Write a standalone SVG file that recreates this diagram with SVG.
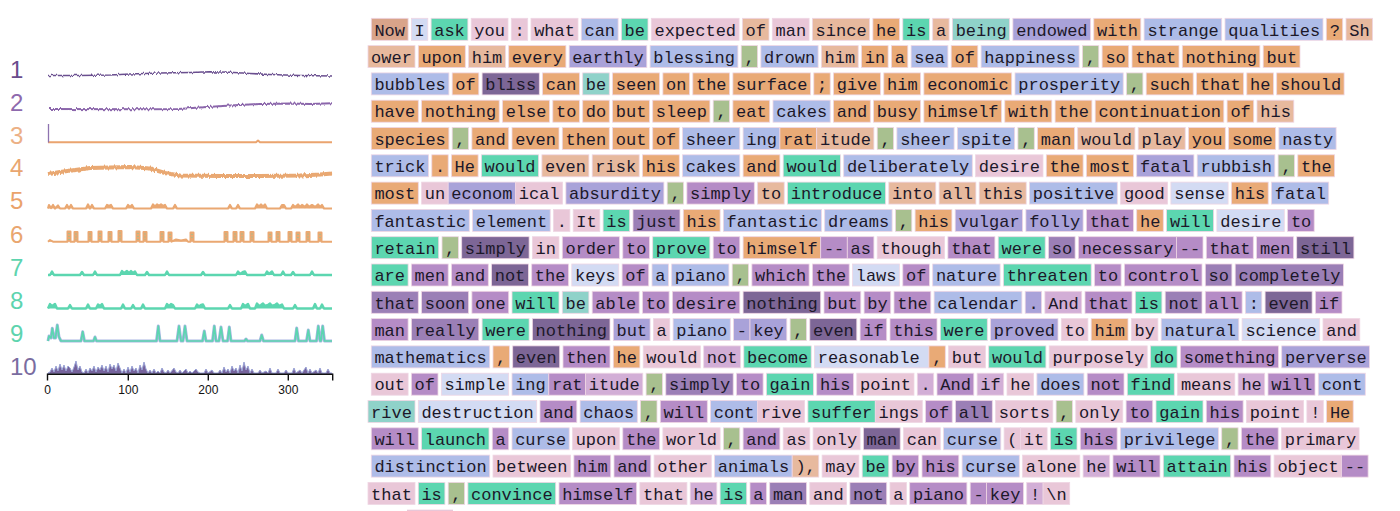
<svg xmlns="http://www.w3.org/2000/svg" width="1400" height="511" viewBox="0 0 1400 511">
<style>
.ln rect{stroke:#efd6e4;stroke-width:0.8}
.o{fill:#e9aa76}.op{fill:#e7b99e}.on{fill:#d9a48a}.g{fill:#5cd6b0}.gb{fill:#8fd2c9}.go{fill:#a8c08f}
.b{fill:#aebce8}.lb{fill:#d3dbf3}.bu{fill:#a9a2d9}.p{fill:#e9c7d8}.pu{fill:#d2aed6}.u{fill:#b58cc6}.m{fill:#9b7fb6}.d{fill:#7d6696}
.t{font-family:"Liberation Mono","DejaVu Sans Mono",monospace;font-size:17px;fill:#1c1829}
.lab{font-family:"Liberation Sans",Arial,sans-serif;font-size:24px}
.tick{font-family:"Liberation Sans",Arial,sans-serif;font-size:12px;fill:#111;text-anchor:middle}
</style>
<defs>
<filter id="jit" x="40" y="40" width="300" height="160" filterUnits="userSpaceOnUse">
<feTurbulence type="fractalNoise" baseFrequency="0.5 0.03" numOctaves="2" seed="4" result="n"/>
<feDisplacementMap in="SourceGraphic" in2="n" scale="4" xChannelSelector="R" yChannelSelector="G"/>
</filter>
</defs>
<rect width="1400" height="511" fill="#ffffff"/>

<g id="charts">
<g id="labels" class="lab">
<text x="10" y="78" fill="#6a4c8c">1</text>
<text x="10" y="111" fill="#8e69ad">2</text>
<text x="10" y="143.5" fill="#ecb085">3</text>
<text x="10" y="176" fill="#e9a670">4</text>
<text x="10" y="209" fill="#eaa36c">5</text>
<text x="10" y="242.5" fill="#e9a66f">6</text>
<text x="10" y="276" fill="#5dd4ae">7</text>
<text x="10" y="309" fill="#5dd4ae">8</text>
<text x="10" y="342" fill="#5dd4ae">9</text>
<text x="10" y="375" fill="#7a6ca0">10</text>
</g>
<g id="series" fill="none" stroke-linejoin="round">
<path id="s1" filter="url(#jit)" stroke="#6a4f8f" stroke-width="1.6" d="M48,75.5 L80,75.5 L110,75 L130,74 L160,73 L190,72.5 L210,71.8 L230,72.2 L250,73.5 L270,74.5 L300,75.5 L332,76"/>
<path id="s2" filter="url(#jit)" stroke="#8b66ab" stroke-width="2" d="M48,109 L150,109.2 L178,109 L200,107.5 L230,105.5 L260,104 L290,103.5 L310,104 L332,103.2"/>
<path id="s3" stroke="#eaa46f" stroke-width="2" d="M48,142.3 H256 L258,140.5 L260,142.3 H332"/>
<path stroke="#8e73b0" stroke-width="1.3" d="M48.5,142.5 V124"/>
<path id="s4" filter="url(#jit)" stroke="#e9a872" stroke-width="4" d="M48,174 L60,172 L75,170 L90,168 L110,167.5 L130,167 L150,168.5 L165,173 L180,175.5 L220,176 L260,176 L300,175.5 L320,174.5 L332,173.5"/>
<path id="s5" fill="#eaa872" stroke="#eaa872" stroke-width="2.2" d="M48,208.5 L49,205 L51,208 L53,205 L55,208.5 L58,205.5 L60,208.5 H65 L67,205 L69,208.5 L71,205 L73,208.5 H86 L88,204.5 L90,208.5 L92,205 L94,208.5 H105 L107,205 L109,206 L111,205 L113,208.5 H126 L128,205 L130,207 L132,205 L134,208.5 H151 L153,204.5 L155,206.5 L157,204.5 L159,206 L161,204.5 L163,206 L165,205 L167,208.5 H173 L175,205 L177,208.5 H228 L230,205 L232,208.5 H236 L238,205 L240,208.5 H255 L257,204.5 L259,206.5 L261,204.5 L263,206.5 L265,204.5 L267,208.5 H280 L282,205 L284,205 L286,208.5 H291 L293,205 L295,207 L298,204.5 L300,207 L302,205 L305,207 L307,204.5 L309,207 L312,205 L315,207 L318,204.5 L320,207 L322,205 L324,208.5 H332"/>
<path id="s6" fill="#eaa872" stroke="#eaa872" stroke-width="2" d="M48,241.7 L50,240 L53,241.7 H67.5 V231.5 H70.5 V241.7 H74.5 V232 H77.5 V241.7 H88.5 V232 H91.5 V241.7 H98.5 V231.5 H101.5 V241.7 H108.5 V232 H111.5 V241.7 H118.5 V231 H121.5 V241.7 H136.5 V231.5 H139.5 V241.7 H143.5 V232 H146.5 V241.7 H160.5 V232 H163.5 V241.7 H168.5 V232.5 H171.5 V241.7 L176,239.5 L181,240.5 L186,239.5 L188,241.7 H190.5 V232.5 H193.5 V241.7 H224.5 V232 H227.5 V241.7 H233.5 V232 H236.5 V241.7 H240.5 V232 H243.5 V241.7 H250.5 V232 H253.5 V241.7 H268.5 V232.5 H271.5 V241.7 H276.5 V232 H279.5 V241.7 H288.5 V232 H291.5 V241.7 H296.5 V232.5 H299.5 V241.7 H306.5 V232 H309.5 V241.7 H318.5 V232.5 H321.5 V241.7 H332"/>
<path stroke="#5cd6b0" stroke-width="1" stroke-dasharray="1 2" opacity="0.8" d="M69,233 V240 M76,233.5 V240 M90,233.5 V240 M100,233 V240 M110,233.5 V240 M120,232.5 V240 M138,233 V240 M145,233.5 V240 M162,233.5 V240 M170,234 V240 M192,234 V240 M226,233.5 V240 M235,233.5 V240 M242,233.5 V240 M252,233.5 V240 M270,234 V240 M278,233.5 V240 M290,233.5 V240 M298,234 V240 M308,233.5 V240 M320,234 V240"/>
<path id="s7" fill="#5cd6b0" stroke="#5cd6b0" stroke-width="2.4" d="M48,275 H50 L52,271.5 L54,275 H80 L82,272 L84,275 H93 L95,271.5 L97,275 H120 L122,271 L124,273 L127,271 L129,273 L131,271 L133,273 L135,271.5 L137,275 H145 L147,272 L149,275 H165 L167,271.5 L169,275 H201 L203,272 L205,275 H236 L238,271.5 L240,274 L243,272 L245,271.5 L247,275 H265 L267,271.5 L269,274 L272,271.5 L274,275 H281 L283,271.5 L285,275 H291 L293,272 L295,275 H310 L312,271.5 L314,275 H332"/>
<path id="s8" fill="#5cd6b0" stroke="#5cd6b0" stroke-width="2.4" d="M48,308.5 L50,304 L52,306 L55,304 L57,308.5 H68 L70,305 L72,308.5 H86 L88,304.5 L90,308.5 H96 L98,304.5 L100,306 L102,304 L104,308.5 H121 L123,304.5 L125,308.5 H131 L133,305 L135,308.5 H141 L143,304.5 L145,308.5 H165 L167,304 L169,306 L171,304 L173,305 L175,308.5 H195 L197,304.5 L199,306.5 L201,305 L203,304.5 L205,308.5 H228 L230,305 L232,308.5 H241 L243,304 L245,306 L248,304 L250,308.5 H255 L257,303.5 L259,306 L261,305 L263,303.5 L265,306 L268,305 L270,303.5 L272,306 L275,305 L277,303.5 L279,306 L282,304.5 L284,308.5 H293 L295,305 L297,308.5 H313 L315,304 L317,308.5 H320 L322,304.5 L324,308.5 H332"/>
<path id="s9b" stroke="#a9b6e2" stroke-width="3" d="M48,341 L49,336 L51,338 L52.3,328.3 L54,338 L55.5,338 L57.3,325 L59,337 L61,341 H81 L82.7,331.7 L84.5,341 H93.5 L95,337 L96.5,341 H156.5 L158.3,326 L160,341 H177 L179,326 L181,341 H183 L185,326 L187,341 H202.5 L204.3,331 L206,341 H212.5 L214.3,326 L216,341 H219 L221,327 L223,341 H227.5 L229.3,327 L231,341 H244.5 L246,339 L247.5,341 H260 L261.7,335 L263.5,341 H295 L296.7,328 L298.5,341 H306.5 L308.3,330 L310,341 H316.5 L318.3,326 L320,341 H321 L322.7,326 L324.5,341 H332"/>
<path id="s9" stroke="#5cd6b0" stroke-width="1.7" d="M48,341 L49,336 L51,338 L52.3,328.3 L54,338 L55.5,338 L57.3,325 L59,337 L61,341 H81 L82.7,331.7 L84.5,341 H93.5 L95,337 L96.5,341 H156.5 L158.3,326 L160,341 H177 L179,326 L181,341 H183 L185,326 L187,341 H202.5 L204.3,331 L206,341 H212.5 L214.3,326 L216,341 H219 L221,327 L223,341 H227.5 L229.3,327 L231,341 H244.5 L246,339 L247.5,341 H260 L261.7,335 L263.5,341 H295 L296.7,328 L298.5,341 H306.5 L308.3,330 L310,341 H316.5 L318.3,326 L320,341 H321 L322.7,326 L324.5,341 H332"/>
<path id="s10" fill="#76639c" stroke="#9aa3d6" stroke-width="1" d="M48,373 L50,372 L52,368 L54,372 L56,366 L58,371 L60,364 L62,370 L64,365 L66,371 L68,366 L70,368 L72,372 L74,367 L76,361 L78,370 L80,366 L82,372 L84,373 L86,369 L88,373 L90,368 L92,371 L94,366 L96,372 L98,367 L100,370 L102,365 L104,371 L106,366 L108,372 L110,364 L112,369 L114,365 L116,371 L118,363 L120,368 L122,373 L124,369 L126,373 L128,367 L130,372 L132,366 L134,371 L136,368 L138,373 L140,365 L142,370 L144,362 L146,369 L148,373 L150,370 L152,373 L154,369 L156,373 L158,371 L160,373 L162,368 L164,372 L166,373 L168,370 L170,373 L174,368 L176,372 L178,373 L180,370 L182,373 L186,369 L188,373 L190,371 L192,373 L196,369 L198,372 L200,373 L204,373 L206,369 L208,373 L212,370 L214,373 L218,373 L220,370 L222,373 L224,367 L226,372 L228,369 L230,373 L232,366 L234,371 L236,368 L238,373 L240,365 L242,371 L244,362 L246,370 L248,366 L250,373 L252,369 L254,373 L258,373 L260,370 L262,373 L266,371 L268,373 L270,368 L272,373 L276,373 L278,369 L280,373 L284,373 L286,370 L288,373 L292,373 L294,368 L296,373 L300,370 L302,373 L306,367 L308,373 L310,369 L312,373 L316,370 L318,373 L320,368 L322,373 L326,373 L328,369 L330,373 L332,373 L332,374 L48,374 Z"/>
</g>
<g id="axis">
<path fill="none" stroke="#111" stroke-width="1.4" d="M47.5,380.5 V374.2 H332.7 V380.5 M128.3,374.2 V380.5 M208.3,374.2 V380.5 M288.3,374.2 V380.5"/>
<text class="tick" x="47.5" y="394">0</text>
<text class="tick" x="128.3" y="394">100</text>
<text class="tick" x="208.3" y="394">200</text>
<text class="tick" x="288.3" y="394">300</text>
</g>
</g>

<g id="tokens">
<g class="ln" transform="translate(0,18.3)">
<rect class="on" x="371.3" width="36.8" height="22"/><rect class="lb" x="411.4" width="16.4" height="22"/><rect class="g" x="431.1" width="36.8" height="22"/><rect class="p" x="471.2" width="36.8" height="22"/><rect class="p" x="511.3" width="16.4" height="22"/><rect class="p" x="531" width="47" height="22"/><rect class="b" x="581.3" width="36.8" height="22"/><rect class="g" x="621.4" width="26.6" height="22"/><rect class="p" x="651.3" width="87.8" height="22"/><rect class="op" x="742.4" width="26.6" height="22"/><rect class="p" x="772.3" width="36.8" height="22"/><rect class="op" x="812.4" width="57.2" height="22"/><rect class="o" x="872.9" width="26.6" height="22"/><rect class="g" x="902.8" width="26.6" height="22"/><rect class="op" x="932.7" width="16.4" height="22"/><rect class="gb" x="952.4" width="57.2" height="22"/><rect class="bu" x="1012.9" width="77.6" height="22"/><rect class="o" x="1093.8" width="47" height="22"/><rect class="b" x="1144.1" width="77.6" height="22"/><rect class="b" x="1225" width="98" height="22"/><rect class="o" x="1326.3" width="16.4" height="22"/><rect class="op" x="1346" width="26.6" height="22"/>
<text class="t" x="374.4" y="17.3">Now<tspan dx="9.5">I</tspan><tspan dx="9.5">ask</tspan><tspan dx="9.5">you</tspan><tspan dx="9.5">:</tspan><tspan dx="9.5">what</tspan><tspan dx="9.5">can</tspan><tspan dx="9.5">be</tspan><tspan dx="9.5">expected</tspan><tspan dx="9.5">of</tspan><tspan dx="9.5">man</tspan><tspan dx="9.5">since</tspan><tspan dx="9.5">he</tspan><tspan dx="9.5">is</tspan><tspan dx="9.5">a</tspan><tspan dx="9.5">being</tspan><tspan dx="9.5">endowed</tspan><tspan dx="9.5">with</tspan><tspan dx="9.5">strange</tspan><tspan dx="9.5">qualities</tspan><tspan dx="9.5">?</tspan><tspan dx="9.5">Sh</tspan></text>
</g>
<g class="ln" transform="translate(0,45.6)">
<rect class="op" x="368" width="47" height="22"/><rect class="o" x="418.3" width="47" height="22"/><rect class="op" x="468.6" width="36.8" height="22"/><rect class="o" x="508.7" width="57.2" height="22"/><rect class="bu" x="569.2" width="77.6" height="22"/><rect class="b" x="650.1" width="87.8" height="22"/><rect class="go" x="741.2" width="16.4" height="22"/><rect class="b" x="760.9" width="57.2" height="22"/><rect class="op" x="821.4" width="36.8" height="22"/><rect class="o" x="861.5" width="26.6" height="22"/><rect class="o" x="891.4" width="16.4" height="22"/><rect class="b" x="911.1" width="36.8" height="22"/><rect class="o" x="951.2" width="26.6" height="22"/><rect class="b" x="981.1" width="98" height="22"/><rect class="go" x="1082.4" width="16.4" height="22"/><rect class="o" x="1102.1" width="26.6" height="22"/><rect class="o" x="1132" width="47" height="22"/><rect class="o" x="1182.3" width="77.6" height="22"/><rect class="o" x="1263.2" width="36.8" height="22"/>
<text class="t" x="371.1" y="17.3">ower<tspan dx="9.5">upon</tspan><tspan dx="9.5">him</tspan><tspan dx="9.5">every</tspan><tspan dx="9.5">earthly</tspan><tspan dx="9.5">blessing</tspan><tspan dx="9.5">,</tspan><tspan dx="9.5">drown</tspan><tspan dx="9.5">him</tspan><tspan dx="9.5">in</tspan><tspan dx="9.5">a</tspan><tspan dx="9.5">sea</tspan><tspan dx="9.5">of</tspan><tspan dx="9.5">happiness</tspan><tspan dx="9.5">,</tspan><tspan dx="9.5">so</tspan><tspan dx="9.5">that</tspan><tspan dx="9.5">nothing</tspan><tspan dx="9.5">but</tspan></text>
</g>
<g class="ln" transform="translate(0,72.9)">
<rect class="b" x="371.3" width="77.6" height="22"/><rect class="o" x="452.2" width="26.6" height="22"/><rect class="d" x="482.1" width="57.2" height="22"/><rect class="o" x="542.6" width="36.8" height="22"/><rect class="gb" x="582.7" width="26.6" height="22"/><rect class="o" x="612.6" width="47" height="22"/><rect class="o" x="662.9" width="26.6" height="22"/><rect class="o" x="692.8" width="36.8" height="22"/><rect class="o" x="732.9" width="77.6" height="22"/><rect class="o" x="813.8" width="16.4" height="22"/><rect class="o" x="833.5" width="47" height="22"/><rect class="o" x="883.8" width="36.8" height="22"/><rect class="o" x="923.9" width="87.8" height="22"/><rect class="b" x="1015" width="108.2" height="22"/><rect class="go" x="1126.5" width="16.4" height="22"/><rect class="o" x="1146.2" width="47" height="22"/><rect class="o" x="1196.5" width="47" height="22"/><rect class="o" x="1246.8" width="26.6" height="22"/><rect class="o" x="1276.7" width="67.4" height="22"/>
<text class="t" x="374.4" y="17.3">bubbles<tspan dx="9.5">of</tspan><tspan dx="9.5">bliss</tspan><tspan dx="9.5">can</tspan><tspan dx="9.5">be</tspan><tspan dx="9.5">seen</tspan><tspan dx="9.5">on</tspan><tspan dx="9.5">the</tspan><tspan dx="9.5">surface</tspan><tspan dx="9.5">;</tspan><tspan dx="9.5">give</tspan><tspan dx="9.5">him</tspan><tspan dx="9.5">economic</tspan><tspan dx="9.5">prosperity</tspan><tspan dx="9.5">,</tspan><tspan dx="9.5">such</tspan><tspan dx="9.5">that</tspan><tspan dx="9.5">he</tspan><tspan dx="9.5">should</tspan></text>
</g>
<g class="ln" transform="translate(0,100.2)">
<rect class="o" x="371.3" width="47" height="22"/><rect class="o" x="421.6" width="77.6" height="22"/><rect class="o" x="502.5" width="47" height="22"/><rect class="o" x="552.8" width="26.6" height="22"/><rect class="o" x="582.7" width="26.6" height="22"/><rect class="o" x="612.6" width="36.8" height="22"/><rect class="o" x="652.7" width="57.2" height="22"/><rect class="go" x="713.2" width="16.4" height="22"/><rect class="o" x="732.9" width="36.8" height="22"/><rect class="b" x="773" width="57.2" height="22"/><rect class="o" x="833.5" width="36.8" height="22"/><rect class="o" x="873.6" width="47" height="22"/><rect class="o" x="923.9" width="77.6" height="22"/><rect class="o" x="1004.8" width="47" height="22"/><rect class="o" x="1055.1" width="36.8" height="22"/><rect class="o" x="1095.2" width="128.6" height="22"/><rect class="o" x="1227.1" width="26.6" height="22"/><rect class="op" x="1257" width="36.8" height="22"/>
<text class="t" x="374.4" y="17.3">have<tspan dx="9.5">nothing</tspan><tspan dx="9.5">else</tspan><tspan dx="9.5">to</tspan><tspan dx="9.5">do</tspan><tspan dx="9.5">but</tspan><tspan dx="9.5">sleep</tspan><tspan dx="9.5">,</tspan><tspan dx="9.5">eat</tspan><tspan dx="9.5">cakes</tspan><tspan dx="9.5">and</tspan><tspan dx="9.5">busy</tspan><tspan dx="9.5">himself</tspan><tspan dx="9.5">with</tspan><tspan dx="9.5">the</tspan><tspan dx="9.5">continuation</tspan><tspan dx="9.5">of</tspan><tspan dx="9.5">his</tspan></text>
</g>
<g class="ln" transform="translate(0,127.5)">
<rect class="o" x="371.3" width="77.6" height="22"/><rect class="go" x="452.2" width="16.4" height="22"/><rect class="o" x="471.9" width="36.8" height="22"/><rect class="o" x="512" width="47" height="22"/><rect class="o" x="562.3" width="47" height="22"/><rect class="o" x="612.6" width="36.8" height="22"/><rect class="o" x="652.7" width="26.6" height="22"/><rect class="b" x="682.6" width="57.2" height="22"/><rect class="b" x="743.1" width="36.8" height="22"/><rect class="o" x="779.9" width="36.8" height="22"/><rect class="op" x="816.7" width="57.2" height="22"/><rect class="go" x="877.2" width="16.4" height="22"/><rect class="b" x="896.9" width="57.2" height="22"/><rect class="b" x="957.4" width="57.2" height="22"/><rect class="go" x="1017.9" width="16.4" height="22"/><rect class="o" x="1037.6" width="36.8" height="22"/><rect class="op" x="1077.7" width="57.2" height="22"/><rect class="op" x="1138.2" width="47" height="22"/><rect class="o" x="1188.5" width="36.8" height="22"/><rect class="o" x="1228.6" width="47" height="22"/><rect class="b" x="1278.9" width="57.2" height="22"/>
<text class="t" x="374.4" y="17.3">species<tspan dx="9.5">,</tspan><tspan dx="9.5">and</tspan><tspan dx="9.5">even</tspan><tspan dx="9.5">then</tspan><tspan dx="9.5">out</tspan><tspan dx="9.5">of</tspan><tspan dx="9.5">sheer</tspan><tspan dx="9.5">ing</tspan><tspan dx="6.2">rat</tspan><tspan dx="6.2">itude</tspan><tspan dx="9.5">,</tspan><tspan dx="9.5">sheer</tspan><tspan dx="9.5">spite</tspan><tspan dx="9.5">,</tspan><tspan dx="9.5">man</tspan><tspan dx="9.5">would</tspan><tspan dx="9.5">play</tspan><tspan dx="9.5">you</tspan><tspan dx="9.5">some</tspan><tspan dx="9.5">nasty</tspan></text>
</g>
<g class="ln" transform="translate(0,154.8)">
<rect class="b" x="371.3" width="57.2" height="22"/><rect class="o" x="431.8" width="16.4" height="22"/><rect class="o" x="451.5" width="26.6" height="22"/><rect class="g" x="481.4" width="57.2" height="22"/><rect class="op" x="541.9" width="47" height="22"/><rect class="op" x="592.2" width="47" height="22"/><rect class="o" x="642.5" width="36.8" height="22"/><rect class="b" x="682.6" width="57.2" height="22"/><rect class="o" x="743.1" width="36.8" height="22"/><rect class="g" x="783.2" width="57.2" height="22"/><rect class="b" x="843.7" width="128.6" height="22"/><rect class="p" x="975.6" width="67.4" height="22"/><rect class="o" x="1046.3" width="36.8" height="22"/><rect class="o" x="1086.4" width="47" height="22"/><rect class="bu" x="1136.7" width="57.2" height="22"/><rect class="b" x="1197.2" width="77.6" height="22"/><rect class="go" x="1278.1" width="16.4" height="22"/><rect class="o" x="1297.8" width="36.8" height="22"/>
<text class="t" x="374.4" y="17.3">trick<tspan dx="9.5">.</tspan><tspan dx="9.5">He</tspan><tspan dx="9.5">would</tspan><tspan dx="9.5">even</tspan><tspan dx="9.5">risk</tspan><tspan dx="9.5">his</tspan><tspan dx="9.5">cakes</tspan><tspan dx="9.5">and</tspan><tspan dx="9.5">would</tspan><tspan dx="9.5">deliberately</tspan><tspan dx="9.5">desire</tspan><tspan dx="9.5">the</tspan><tspan dx="9.5">most</tspan><tspan dx="9.5">fatal</tspan><tspan dx="9.5">rubbish</tspan><tspan dx="9.5">,</tspan><tspan dx="9.5">the</tspan></text>
</g>
<g class="ln" transform="translate(0,182.1)">
<rect class="o" x="371.3" width="47" height="22"/><rect class="p" x="421.6" width="26.6" height="22"/><rect class="bu" x="448.2" width="67.4" height="22"/><rect class="p" x="515.6" width="47" height="22"/><rect class="bu" x="565.9" width="98" height="22"/><rect class="go" x="667.2" width="16.4" height="22"/><rect class="u" x="686.9" width="67.4" height="22"/><rect class="op" x="757.6" width="26.6" height="22"/><rect class="g" x="787.5" width="98" height="22"/><rect class="op" x="888.8" width="47" height="22"/><rect class="op" x="939.1" width="36.8" height="22"/><rect class="op" x="979.2" width="47" height="22"/><rect class="b" x="1029.5" width="87.8" height="22"/><rect class="p" x="1120.6" width="47" height="22"/><rect class="lb" x="1170.9" width="57.2" height="22"/><rect class="o" x="1231.4" width="36.8" height="22"/><rect class="b" x="1271.5" width="57.2" height="22"/>
<text class="t" x="374.4" y="17.3">most<tspan dx="9.5">un</tspan><tspan dx="6.2">econom</tspan><tspan dx="6.2">ical</tspan><tspan dx="9.5">absurdity</tspan><tspan dx="9.5">,</tspan><tspan dx="9.5">simply</tspan><tspan dx="9.5">to</tspan><tspan dx="9.5">introduce</tspan><tspan dx="9.5">into</tspan><tspan dx="9.5">all</tspan><tspan dx="9.5">this</tspan><tspan dx="9.5">positive</tspan><tspan dx="9.5">good</tspan><tspan dx="9.5">sense</tspan><tspan dx="9.5">his</tspan><tspan dx="9.5">fatal</tspan></text>
</g>
<g class="ln" transform="translate(0,209.4)">
<rect class="b" x="371.3" width="98" height="22"/><rect class="b" x="472.6" width="77.6" height="22"/><rect class="p" x="553.5" width="16.4" height="22"/><rect class="p" x="573.2" width="26.6" height="22"/><rect class="g" x="603.1" width="26.6" height="22"/><rect class="m" x="633" width="47" height="22"/><rect class="o" x="683.3" width="36.8" height="22"/><rect class="b" x="723.4" width="98" height="22"/><rect class="b" x="824.7" width="67.4" height="22"/><rect class="go" x="895.4" width="16.4" height="22"/><rect class="o" x="915.1" width="36.8" height="22"/><rect class="bu" x="955.2" width="67.4" height="22"/><rect class="bu" x="1025.9" width="57.2" height="22"/><rect class="u" x="1086.4" width="47" height="22"/><rect class="o" x="1136.7" width="26.6" height="22"/><rect class="g" x="1166.6" width="47" height="22"/><rect class="lb" x="1216.9" width="67.4" height="22"/><rect class="u" x="1287.6" width="26.6" height="22"/>
<text class="t" x="374.4" y="17.3">fantastic<tspan dx="9.5">element</tspan><tspan dx="9.5">.</tspan><tspan dx="9.5">It</tspan><tspan dx="9.5">is</tspan><tspan dx="9.5">just</tspan><tspan dx="9.5">his</tspan><tspan dx="9.5">fantastic</tspan><tspan dx="9.5">dreams</tspan><tspan dx="9.5">,</tspan><tspan dx="9.5">his</tspan><tspan dx="9.5">vulgar</tspan><tspan dx="9.5">folly</tspan><tspan dx="9.5">that</tspan><tspan dx="9.5">he</tspan><tspan dx="9.5">will</tspan><tspan dx="9.5">desire</tspan><tspan dx="9.5">to</tspan></text>
</g>
<g class="ln" transform="translate(0,236.7)">
<rect class="g" x="371.3" width="67.4" height="22"/><rect class="go" x="442" width="16.4" height="22"/><rect class="d" x="461.7" width="67.4" height="22"/><rect class="p" x="532.4" width="26.6" height="22"/><rect class="u" x="562.3" width="57.2" height="22"/><rect class="u" x="622.8" width="26.6" height="22"/><rect class="g" x="652.7" width="57.2" height="22"/><rect class="u" x="713.2" width="26.6" height="22"/><rect class="o" x="743.1" width="77.6" height="22"/><rect class="u" x="820.7" width="26.6" height="22"/><rect class="u" x="847.3" width="26.6" height="22"/><rect class="p" x="877.2" width="67.4" height="22"/><rect class="u" x="947.9" width="47" height="22"/><rect class="g" x="998.2" width="47" height="22"/><rect class="m" x="1048.5" width="26.6" height="22"/><rect class="u" x="1078.4" width="98" height="22"/><rect class="u" x="1176.4" width="26.6" height="22"/><rect class="u" x="1206.3" width="47" height="22"/><rect class="u" x="1256.6" width="36.8" height="22"/><rect class="d" x="1296.7" width="57.2" height="22"/>
<text class="t" x="374.4" y="17.3">retain<tspan dx="9.5">,</tspan><tspan dx="9.5">simply</tspan><tspan dx="9.5">in</tspan><tspan dx="9.5">order</tspan><tspan dx="9.5">to</tspan><tspan dx="9.5">prove</tspan><tspan dx="9.5">to</tspan><tspan dx="9.5">himself</tspan><tspan dx="6.2">--</tspan><tspan dx="6.2">as</tspan><tspan dx="9.5">though</tspan><tspan dx="9.5">that</tspan><tspan dx="9.5">were</tspan><tspan dx="9.5">so</tspan><tspan dx="9.5">necessary</tspan><tspan dx="6.2">--</tspan><tspan dx="9.5">that</tspan><tspan dx="9.5">men</tspan><tspan dx="9.5">still</tspan></text>
</g>
<g class="ln" transform="translate(0,264)">
<rect class="g" x="371.3" width="36.8" height="22"/><rect class="u" x="411.4" width="36.8" height="22"/><rect class="u" x="451.5" width="36.8" height="22"/><rect class="d" x="491.6" width="36.8" height="22"/><rect class="u" x="531.7" width="36.8" height="22"/><rect class="lb" x="571.8" width="47" height="22"/><rect class="u" x="622.1" width="26.6" height="22"/><rect class="b" x="652" width="16.4" height="22"/><rect class="b" x="671.7" width="57.2" height="22"/><rect class="go" x="732.2" width="16.4" height="22"/><rect class="u" x="751.9" width="57.2" height="22"/><rect class="u" x="812.4" width="36.8" height="22"/><rect class="lb" x="852.5" width="47" height="22"/><rect class="u" x="902.8" width="26.6" height="22"/><rect class="b" x="932.7" width="67.4" height="22"/><rect class="g" x="1003.4" width="87.8" height="22"/><rect class="u" x="1094.5" width="26.6" height="22"/><rect class="u" x="1124.4" width="77.6" height="22"/><rect class="m" x="1205.3" width="26.6" height="22"/><rect class="m" x="1235.2" width="108.2" height="22"/>
<text class="t" x="374.4" y="17.3">are<tspan dx="9.5">men</tspan><tspan dx="9.5">and</tspan><tspan dx="9.5">not</tspan><tspan dx="9.5">the</tspan><tspan dx="9.5">keys</tspan><tspan dx="9.5">of</tspan><tspan dx="9.5">a</tspan><tspan dx="9.5">piano</tspan><tspan dx="9.5">,</tspan><tspan dx="9.5">which</tspan><tspan dx="9.5">the</tspan><tspan dx="9.5">laws</tspan><tspan dx="9.5">of</tspan><tspan dx="9.5">nature</tspan><tspan dx="9.5">threaten</tspan><tspan dx="9.5">to</tspan><tspan dx="9.5">control</tspan><tspan dx="9.5">so</tspan><tspan dx="9.5">completely</tspan></text>
</g>
<g class="ln" transform="translate(0,291.3)">
<rect class="m" x="371.3" width="47" height="22"/><rect class="m" x="421.6" width="47" height="22"/><rect class="u" x="471.9" width="36.8" height="22"/><rect class="g" x="512" width="47" height="22"/><rect class="gb" x="562.3" width="26.6" height="22"/><rect class="u" x="592.2" width="47" height="22"/><rect class="u" x="642.5" width="26.6" height="22"/><rect class="u" x="672.4" width="67.4" height="22"/><rect class="d" x="743.1" width="77.6" height="22"/><rect class="u" x="824" width="36.8" height="22"/><rect class="u" x="864.1" width="26.6" height="22"/><rect class="u" x="894" width="36.8" height="22"/><rect class="b" x="934.1" width="87.8" height="22"/><rect class="bu" x="1025.2" width="16.4" height="22"/><rect class="pu" x="1044.9" width="36.8" height="22"/><rect class="u" x="1085" width="47" height="22"/><rect class="g" x="1135.3" width="26.6" height="22"/><rect class="m" x="1165.2" width="36.8" height="22"/><rect class="u" x="1205.3" width="36.8" height="22"/><rect class="b" x="1245.4" width="16.4" height="22"/><rect class="d" x="1265.1" width="47" height="22"/><rect class="u" x="1315.4" width="26.6" height="22"/>
<text class="t" x="374.4" y="17.3">that<tspan dx="9.5">soon</tspan><tspan dx="9.5">one</tspan><tspan dx="9.5">will</tspan><tspan dx="9.5">be</tspan><tspan dx="9.5">able</tspan><tspan dx="9.5">to</tspan><tspan dx="9.5">desire</tspan><tspan dx="9.5">nothing</tspan><tspan dx="9.5">but</tspan><tspan dx="9.5">by</tspan><tspan dx="9.5">the</tspan><tspan dx="9.5">calendar</tspan><tspan dx="9.5">.</tspan><tspan dx="9.5">And</tspan><tspan dx="9.5">that</tspan><tspan dx="9.5">is</tspan><tspan dx="9.5">not</tspan><tspan dx="9.5">all</tspan><tspan dx="9.5">:</tspan><tspan dx="9.5">even</tspan><tspan dx="9.5">if</tspan></text>
</g>
<g class="ln" transform="translate(0,318.6)">
<rect class="u" x="371.3" width="36.8" height="22"/><rect class="m" x="411.4" width="67.4" height="22"/><rect class="g" x="482.1" width="47" height="22"/><rect class="d" x="532.4" width="77.6" height="22"/><rect class="bu" x="613.3" width="36.8" height="22"/><rect class="p" x="653.4" width="16.4" height="22"/><rect class="b" x="673.1" width="57.2" height="22"/><rect class="bu" x="733.6" width="16.4" height="22"/><rect class="bu" x="750" width="36.8" height="22"/><rect class="go" x="790.1" width="16.4" height="22"/><rect class="d" x="809.8" width="47" height="22"/><rect class="u" x="860.1" width="26.6" height="22"/><rect class="u" x="890" width="47" height="22"/><rect class="g" x="940.3" width="47" height="22"/><rect class="bu" x="990.6" width="67.4" height="22"/><rect class="p" x="1061.3" width="26.6" height="22"/><rect class="o" x="1091.2" width="36.8" height="22"/><rect class="p" x="1131.3" width="26.6" height="22"/><rect class="b" x="1161.2" width="77.6" height="22"/><rect class="lb" x="1242.1" width="77.6" height="22"/><rect class="p" x="1323" width="36.8" height="22"/>
<text class="t" x="374.4" y="17.3">man<tspan dx="9.5">really</tspan><tspan dx="9.5">were</tspan><tspan dx="9.5">nothing</tspan><tspan dx="9.5">but</tspan><tspan dx="9.5">a</tspan><tspan dx="9.5">piano</tspan><tspan dx="9.5">-</tspan><tspan dx="6.2">key</tspan><tspan dx="9.5">,</tspan><tspan dx="9.5">even</tspan><tspan dx="9.5">if</tspan><tspan dx="9.5">this</tspan><tspan dx="9.5">were</tspan><tspan dx="9.5">proved</tspan><tspan dx="9.5">to</tspan><tspan dx="9.5">him</tspan><tspan dx="9.5">by</tspan><tspan dx="9.5">natural</tspan><tspan dx="9.5">science</tspan><tspan dx="9.5">and</tspan></text>
</g>
<g class="ln" transform="translate(0,345.9)">
<rect class="b" x="371.3" width="118.4" height="22"/><rect class="o" x="493" width="16.4" height="22"/><rect class="d" x="512.7" width="47" height="22"/><rect class="u" x="563" width="47" height="22"/><rect class="o" x="613.3" width="26.6" height="22"/><rect class="p" x="643.2" width="57.2" height="22"/><rect class="pu" x="703.7" width="36.8" height="22"/><rect class="g" x="743.8" width="67.4" height="22"/><rect class="lb" x="814.5" width="114.4" height="22"/><rect class="o" x="928.9" width="16.4" height="22"/><rect class="p" x="948.6" width="36.8" height="22"/><rect class="g" x="988.7" width="57.2" height="22"/><rect class="p" x="1049.2" width="98" height="22"/><rect class="g" x="1150.5" width="26.6" height="22"/><rect class="u" x="1180.4" width="98" height="22"/><rect class="bu" x="1281.7" width="87.8" height="22"/>
<text class="t" x="374.4" y="17.3">mathematics<tspan dx="9.5">,</tspan><tspan dx="9.5">even</tspan><tspan dx="9.5">then</tspan><tspan dx="9.5">he</tspan><tspan dx="9.5">would</tspan><tspan dx="9.5">not</tspan><tspan dx="9.5">become</tspan><tspan dx="9.5">reasonable</tspan><tspan dx="12.4">,</tspan><tspan dx="9.5">but</tspan><tspan dx="9.5">would</tspan><tspan dx="9.5">purposely</tspan><tspan dx="9.5">do</tspan><tspan dx="9.5">something</tspan><tspan dx="9.5">perverse</tspan></text>
</g>
<g class="ln" transform="translate(0,373.2)">
<rect class="p" x="371.3" width="36.8" height="22"/><rect class="u" x="411.4" width="26.6" height="22"/><rect class="lb" x="441.3" width="67.4" height="22"/><rect class="b" x="512" width="36.8" height="22"/><rect class="u" x="548.8" width="36.8" height="22"/><rect class="pu" x="585.6" width="57.2" height="22"/><rect class="go" x="646.1" width="16.4" height="22"/><rect class="m" x="665.8" width="67.4" height="22"/><rect class="u" x="736.5" width="26.6" height="22"/><rect class="g" x="766.4" width="47" height="22"/><rect class="u" x="816.7" width="36.8" height="22"/><rect class="p" x="856.8" width="57.2" height="22"/><rect class="pu" x="917.3" width="16.4" height="22"/><rect class="u" x="937" width="36.8" height="22"/><rect class="pu" x="977.1" width="26.6" height="22"/><rect class="p" x="1007" width="26.6" height="22"/><rect class="b" x="1036.9" width="47" height="22"/><rect class="u" x="1087.2" width="36.8" height="22"/><rect class="g" x="1127.3" width="47" height="22"/><rect class="p" x="1177.6" width="57.2" height="22"/><rect class="pu" x="1238.1" width="26.6" height="22"/><rect class="u" x="1268" width="47" height="22"/><rect class="b" x="1318.3" width="47" height="22"/>
<text class="t" x="374.4" y="17.3">out<tspan dx="9.5">of</tspan><tspan dx="9.5">simple</tspan><tspan dx="9.5">ing</tspan><tspan dx="6.2">rat</tspan><tspan dx="6.2">itude</tspan><tspan dx="9.5">,</tspan><tspan dx="9.5">simply</tspan><tspan dx="9.5">to</tspan><tspan dx="9.5">gain</tspan><tspan dx="9.5">his</tspan><tspan dx="9.5">point</tspan><tspan dx="9.5">.</tspan><tspan dx="9.5">And</tspan><tspan dx="9.5">if</tspan><tspan dx="9.5">he</tspan><tspan dx="9.5">does</tspan><tspan dx="9.5">not</tspan><tspan dx="9.5">find</tspan><tspan dx="9.5">means</tspan><tspan dx="9.5">he</tspan><tspan dx="9.5">will</tspan><tspan dx="9.5">cont</tspan></text>
</g>
<g class="ln" transform="translate(0,400.5)">
<rect class="gb" x="368" width="47" height="22"/><rect class="lb" x="418.3" width="118.4" height="22"/><rect class="u" x="540" width="36.8" height="22"/><rect class="b" x="580.1" width="57.2" height="22"/><rect class="go" x="640.6" width="16.4" height="22"/><rect class="u" x="660.3" width="47" height="22"/><rect class="b" x="710.6" width="47" height="22"/><rect class="p" x="757.6" width="47" height="22"/><rect class="g" x="807.9" width="67.4" height="22"/><rect class="p" x="875.3" width="47" height="22"/><rect class="u" x="925.6" width="26.6" height="22"/><rect class="m" x="955.5" width="36.8" height="22"/><rect class="p" x="995.6" width="57.2" height="22"/><rect class="go" x="1056.1" width="16.4" height="22"/><rect class="p" x="1075.8" width="47" height="22"/><rect class="u" x="1126.1" width="26.6" height="22"/><rect class="g" x="1156" width="47" height="22"/><rect class="u" x="1206.3" width="36.8" height="22"/><rect class="p" x="1246.4" width="57.2" height="22"/><rect class="p" x="1306.9" width="16.4" height="22"/><rect class="o" x="1326.6" width="26.6" height="22"/>
<text class="t" x="371.1" y="17.3">rive<tspan dx="9.5">destruction</tspan><tspan dx="9.5">and</tspan><tspan dx="9.5">chaos</tspan><tspan dx="9.5">,</tspan><tspan dx="9.5">will</tspan><tspan dx="9.5">cont</tspan><tspan dx="6.2">rive</tspan><tspan dx="9.5">suffer</tspan><tspan dx="6.2">ings</tspan><tspan dx="9.5">of</tspan><tspan dx="9.5">all</tspan><tspan dx="9.5">sorts</tspan><tspan dx="9.5">,</tspan><tspan dx="9.5">only</tspan><tspan dx="9.5">to</tspan><tspan dx="9.5">gain</tspan><tspan dx="9.5">his</tspan><tspan dx="9.5">point</tspan><tspan dx="9.5">!</tspan><tspan dx="9.5">He</tspan></text>
</g>
<g class="ln" transform="translate(0,427.8)">
<rect class="u" x="371.3" width="47" height="22"/><rect class="g" x="421.6" width="67.4" height="22"/><rect class="u" x="492.3" width="16.4" height="22"/><rect class="b" x="512" width="57.2" height="22"/><rect class="p" x="572.5" width="47" height="22"/><rect class="u" x="622.8" width="36.8" height="22"/><rect class="p" x="662.9" width="57.2" height="22"/><rect class="go" x="723.4" width="16.4" height="22"/><rect class="u" x="743.1" width="36.8" height="22"/><rect class="p" x="783.2" width="26.6" height="22"/><rect class="p" x="813.1" width="47" height="22"/><rect class="d" x="863.4" width="36.8" height="22"/><rect class="p" x="903.5" width="36.8" height="22"/><rect class="b" x="943.6" width="57.2" height="22"/><rect class="p" x="1004.1" width="16.4" height="22"/><rect class="p" x="1020.5" width="26.6" height="22"/><rect class="g" x="1050.4" width="26.6" height="22"/><rect class="u" x="1080.3" width="36.8" height="22"/><rect class="b" x="1120.4" width="98" height="22"/><rect class="go" x="1221.7" width="16.4" height="22"/><rect class="u" x="1241.4" width="36.8" height="22"/><rect class="p" x="1281.5" width="77.6" height="22"/>
<text class="t" x="374.4" y="17.3">will<tspan dx="9.5">launch</tspan><tspan dx="9.5">a</tspan><tspan dx="9.5">curse</tspan><tspan dx="9.5">upon</tspan><tspan dx="9.5">the</tspan><tspan dx="9.5">world</tspan><tspan dx="9.5">,</tspan><tspan dx="9.5">and</tspan><tspan dx="9.5">as</tspan><tspan dx="9.5">only</tspan><tspan dx="9.5">man</tspan><tspan dx="9.5">can</tspan><tspan dx="9.5">curse</tspan><tspan dx="9.5">(</tspan><tspan dx="6.2">it</tspan><tspan dx="9.5">is</tspan><tspan dx="9.5">his</tspan><tspan dx="9.5">privilege</tspan><tspan dx="9.5">,</tspan><tspan dx="9.5">the</tspan><tspan dx="9.5">primary</tspan></text>
</g>
<g class="ln" transform="translate(0,455.1)">
<rect class="b" x="371.3" width="118.4" height="22"/><rect class="p" x="493" width="77.6" height="22"/><rect class="u" x="573.9" width="36.8" height="22"/><rect class="u" x="614" width="36.8" height="22"/><rect class="p" x="654.1" width="57.2" height="22"/><rect class="b" x="714.6" width="77.6" height="22"/><rect class="op" x="792.2" width="26.6" height="22"/><rect class="p" x="822.1" width="36.8" height="22"/><rect class="g" x="862.2" width="26.6" height="22"/><rect class="u" x="892.1" width="26.6" height="22"/><rect class="u" x="922" width="36.8" height="22"/><rect class="b" x="962.1" width="57.2" height="22"/><rect class="p" x="1022.6" width="57.2" height="22"/><rect class="pu" x="1083.1" width="26.6" height="22"/><rect class="u" x="1113" width="47" height="22"/><rect class="g" x="1163.3" width="67.4" height="22"/><rect class="u" x="1234" width="36.8" height="22"/><rect class="p" x="1274.1" width="67.4" height="22"/><rect class="u" x="1341.5" width="26.6" height="22"/>
<text class="t" x="374.4" y="17.3">distinction<tspan dx="9.5">between</tspan><tspan dx="9.5">him</tspan><tspan dx="9.5">and</tspan><tspan dx="9.5">other</tspan><tspan dx="9.5">animals</tspan><tspan dx="6.2">),</tspan><tspan dx="9.5">may</tspan><tspan dx="9.5">be</tspan><tspan dx="9.5">by</tspan><tspan dx="9.5">his</tspan><tspan dx="9.5">curse</tspan><tspan dx="9.5">alone</tspan><tspan dx="9.5">he</tspan><tspan dx="9.5">will</tspan><tspan dx="9.5">attain</tspan><tspan dx="9.5">his</tspan><tspan dx="9.5">object</tspan><tspan dx="6.2">--</tspan></text>
</g>
<g class="ln" transform="translate(0,482.4)">
<rect class="p" x="368" width="47" height="22"/><rect class="g" x="418.3" width="26.6" height="22"/><rect class="go" x="448.2" width="16.4" height="22"/><rect class="g" x="467.9" width="87.8" height="22"/><rect class="u" x="559" width="77.6" height="22"/><rect class="p" x="639.9" width="47" height="22"/><rect class="pu" x="690.2" width="26.6" height="22"/><rect class="g" x="720.1" width="26.6" height="22"/><rect class="u" x="750" width="16.4" height="22"/><rect class="m" x="769.7" width="36.8" height="22"/><rect class="p" x="809.8" width="36.8" height="22"/><rect class="m" x="849.9" width="36.8" height="22"/><rect class="p" x="890" width="16.4" height="22"/><rect class="u" x="909.7" width="57.2" height="22"/><rect class="u" x="970.2" width="16.4" height="22"/><rect class="u" x="986.6" width="36.8" height="22"/><rect class="pu" x="1026.7" width="16.4" height="22"/><rect class="p" x="1043.1" width="26.6" height="22"/>
<text class="t" x="371.1" y="17.3">that<tspan dx="9.5">is</tspan><tspan dx="9.5">,</tspan><tspan dx="9.5">convince</tspan><tspan dx="9.5">himself</tspan><tspan dx="9.5">that</tspan><tspan dx="9.5">he</tspan><tspan dx="9.5">is</tspan><tspan dx="9.5">a</tspan><tspan dx="9.5">man</tspan><tspan dx="9.5">and</tspan><tspan dx="9.5">not</tspan><tspan dx="9.5">a</tspan><tspan dx="9.5">piano</tspan><tspan dx="9.5">-</tspan><tspan dx="6.2">key</tspan><tspan dx="9.5">!</tspan><tspan dx="6.2">\n</tspan></text>
</g>
<rect class="p" x="407" y="509.7" width="46" height="2"/>
</g>
</svg>
